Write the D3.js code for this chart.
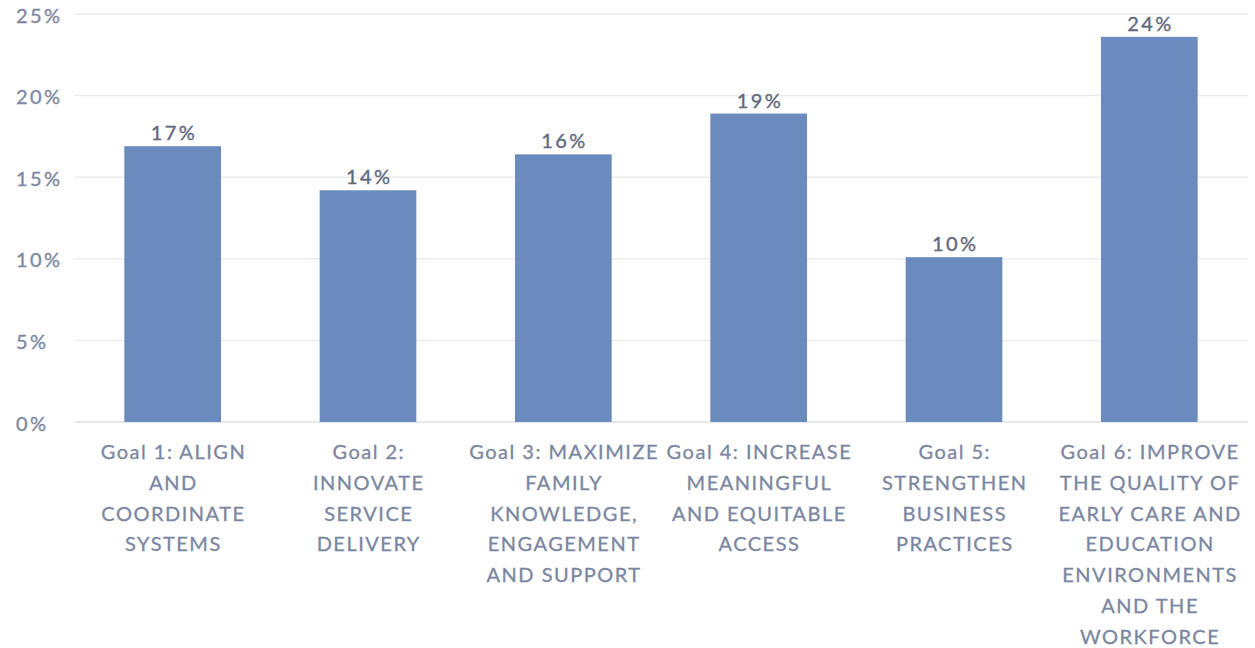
<!DOCTYPE html>
<html>
<head>
<meta charset="utf-8">
<script src="https://cdn.jsdelivr.net/npm/d3@7"></script>
<style>
  html, body { margin: 0; padding: 0; background: #ffffff; }
  svg { display: block; }
  text { font-family: Lato, "Open Sans", sans-serif; }
</style>
</head>
<body>
<svg id="chart" width="1255" height="648"></svg>
<script>
// Share of activity by strategic goal
const categories = [
  "Goal 1: ALIGN\nAND\nCOORDINATE\nSYSTEMS",
  "Goal 2:\nINNOVATE\nSERVICE\nDELIVERY",
  "Goal 3: MAXIMIZE\nFAMILY\nKNOWLEDGE,\nENGAGEMENT\nAND SUPPORT",
  "Goal 4: INCREASE\nMEANINGFUL\nAND EQUITABLE\nACCESS",
  "Goal 5:\nSTRENGTHEN\nBUSINESS\nPRACTICES",
  "Goal 6: IMPROVE\nTHE QUALITY OF\nEARLY CARE AND\nEDUCATION\nENVIRONMENTS\nAND THE\nWORKFORCE"
];
const shares = [0.169, 0.142, 0.164, 0.189, 0.101, 0.236];
const yTicks = [0, 0.05, 0.10, 0.15, 0.20, 0.25];

const svg = d3.select("#chart");
const margin = { left: 75, right: 8, top: 14, bottom: 226 };
const W = 1255, H = 648;

const x = d3.scaleBand()
  .domain(categories)
  .range([margin.left, W - margin.right])
  .paddingInner(0.505)
  .paddingOuter(0.2525);

const y = d3.scaleLinear()
  .domain([0, 0.25])
  .range([H - margin.bottom, margin.top]);

const pct = d3.format(".0%");

// horizontal gridlines
svg.append("g")
  .selectAll("line")
  .data(yTicks)
  .join("line")
  .attr("x1", margin.left)
  .attr("x2", W - margin.right + 1)
  .attr("y1", d => y(d))
  .attr("y2", d => y(d))
  .attr("stroke", d => d === 0 ? "#e2e2e2" : "#ececec")
  .attr("stroke-width", 1.5);

// y axis labels, left aligned
const yg = svg.append("g").call(d3.axisLeft(y).tickValues(yTicks).tickFormat(pct).tickSize(0));
yg.select(".domain").remove();
yg.selectAll("text")
  .attr("text-anchor", "start")
  .attr("x", 16)
  .attr("dy", "0.6em")
  .attr("transform", "translate(0,-4)")
  .attr("fill", "#7d88a0")
  .attr("stroke", "#7d88a0")
  .attr("stroke-width", 0.35)
  .style("font-size", "20px")
  .style("letter-spacing", "2.4px")
  .style("font-family", "Lato, sans-serif");

// bars
svg.append("g")
  .selectAll("rect")
  .data(shares)
  .join("rect")
  .attr("x", (d, i) => x(categories[i]))
  .attr("width", x.bandwidth())
  .attr("y", d => y(d))
  .attr("height", d => y(0) - y(d))
  .attr("fill", "#6b8bbe");

// value labels
svg.append("g")
  .selectAll("text")
  .data(shares)
  .join("text")
  .attr("x", (d, i) => x(categories[i]) + x.bandwidth() / 2 + 1.2)
  .attr("y", d => y(d) - 6)
  .attr("text-anchor", "middle")
  .attr("fill", "#5f687c")
  .attr("stroke", "#5f687c")
  .attr("stroke-width", 0.35)
  .style("font-size", "20px")
  .style("letter-spacing", "2.4px")
  .text(d => pct(d));

// category labels
const xg = svg.append("g")
  .attr("transform", `translate(0,${y(0)})`)
  .call(d3.axisBottom(x).tickSize(0).tickFormat(""));
xg.select(".domain").remove();
xg.selectAll(".tick").each(function(d) {
  const t = d3.select(this).append("text")
    .attr("text-anchor", "middle")
    .attr("fill", "#7b86a0")
    .attr("stroke", "#7b86a0")
    .attr("stroke-width", 0.3)
    .style("font-size", "20px")
    .style("letter-spacing", "1.5px");
  d.split("\n").forEach((line, k) => {
    t.append("tspan").attr("x", 0.75).attr("y", 37 + k * 30.8).text(line);
  });
});
</script>
</body>
</html>
